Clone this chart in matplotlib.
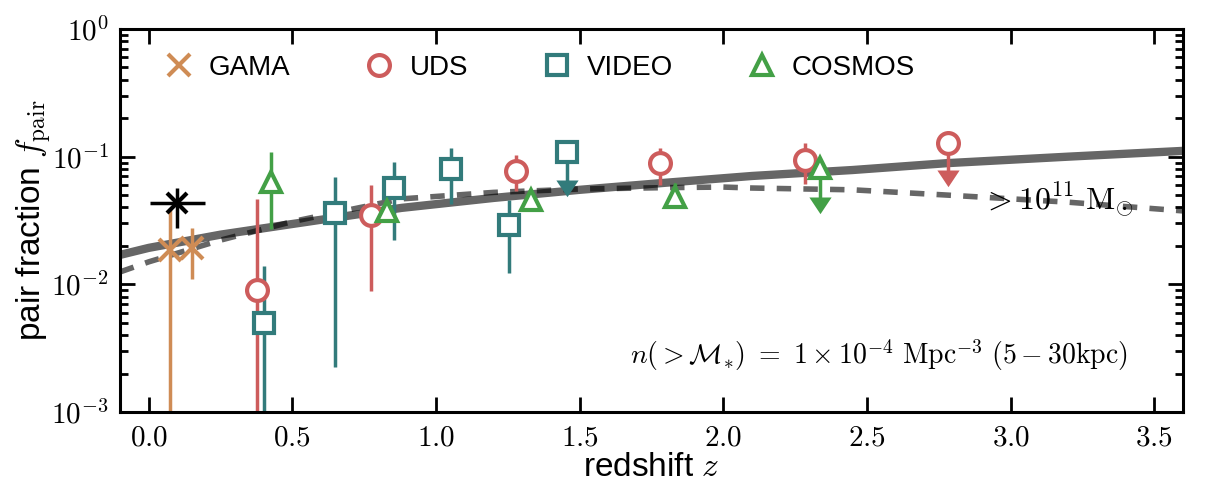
import numpy as np
import matplotlib
matplotlib.use("Agg")
import matplotlib.pyplot as plt
import matplotlib.ticker as mticker
from matplotlib.path import Path

plt.rcParams['font.family'] = ['Liberation Sans', 'DejaVu Sans']
plt.rcParams['mathtext.fontset'] = 'cm'

# ---- data ----
LOW = 1e-5   # error bars that run off the bottom of the plot

gama_z = [0.073, 0.150]
gama_f = [0.0186, 0.0193]
gama_lo = [LOW, 0.0110]
gama_hi = [0.0396, 0.0276]

uds_z = [0.378, 0.773, 1.280, 1.780, 2.283]
uds_f = [0.0090, 0.0349, 0.0772, 0.0890, 0.0940]
uds_lo = [LOW, 0.0089, 0.0538, 0.0600, 0.0610]
uds_hi = [0.0467, 0.0600, 0.1030, 0.1170, 0.1280]
uds_lim_z = [2.783]
uds_lim_f = [0.128]
uds_lim_end = [0.0786]

video_z = [0.400, 0.650, 0.853, 1.052, 1.253]
video_f = [0.0050, 0.0362, 0.0568, 0.0800, 0.0292]
video_lo = [LOW, 0.00225, 0.0222, 0.0426, 0.0123]
video_hi = [0.0139, 0.0693, 0.0910, 0.1170, 0.0458]
video_lim_z = [1.455]
video_lim_f = [0.109]
video_lim_end = [0.0656]

cosmos_z = [0.425, 0.829, 1.329, 1.832]
cosmos_f = [0.0633, 0.0376, 0.0458, 0.0483]
cosmos_lo = [0.0271, 0.0330, 0.0405, 0.0400]
cosmos_hi = [0.1090, 0.0400, 0.0490, 0.0620]
cosmos_lim_z = [2.335]
cosmos_lim_f = [0.0815]
cosmos_lim_end = [0.0483]

local_z = [0.100]
local_f = [0.0434]
local_zerr = [0.095]
local_lo = [0.0276]
local_hi = [0.0569]

model_z = [-0.1, 0.0, 0.25, 0.5, 0.88, 1.2, 1.5, 1.8, 2.1, 2.45, 2.78, 3.2, 3.6]
model_f = [0.0170, 0.0193, 0.0245, 0.0297, 0.0397, 0.0475, 0.0550, 0.0625, 0.0706,
           0.0786, 0.0890, 0.1000, 0.1110]
massive_z = [-0.1, 0.0, 0.25, 0.5, 0.88, 1.2, 1.5, 1.8, 2.0, 2.1, 2.45, 2.78, 3.2, 3.6]
massive_f = [0.0125, 0.0150, 0.0222, 0.0310, 0.0467, 0.0525, 0.0558, 0.0572, 0.0578,
             0.0568, 0.0550, 0.0500, 0.0440, 0.0376]

C_GAMA = '#CF8C55'
C_UDS = '#CD5C5C'
C_VIDEO = '#327B7B'
C_COSMOS = '#43A046'

# arrow head: base at the data point, tip below
arrow = Path([(-1.0, 0.0), (0.0, -1.5), (1.0, 0.0), (-1.0, 0.0)],
             [Path.MOVETO, Path.LINETO, Path.LINETO, Path.CLOSEPOLY])

fig = plt.figure(figsize=(12.06, 4.88), dpi=100)
ax = fig.add_axes([120 / 1206, 76 / 488, 1063 / 1206, 383 / 488])
ax.set_yscale('log')

ax.plot(model_z, model_f, color='black', alpha=0.6, lw=6, solid_capstyle='butt', zorder=1)
ax.plot(massive_z, massive_f, color='black', alpha=0.6, lw=4, dashes=(2.6, 2.2), zorder=1)


def points(z, f, lo, hi, color, marker, label, ms=15, mew=3):
    f = np.array(f)
    yerr = [f - np.array(lo), np.array(hi) - f]
    ax.errorbar(z, f, yerr=yerr, fmt='none', ecolor=color, elinewidth=2.5,
                capsize=0, zorder=2)
    ax.plot(z, f, ls='none', marker=marker, ms=ms, mew=mew, mec=color,
            mfc='white' if marker != 'x' else color, zorder=3, label=label)


def limits(z, f, end, color, marker):
    for zi, fi, ei in zip(z, f, end):
        ax.plot([zi, zi], [fi, ei], color=color, lw=2.5, zorder=2)
    ax.plot(z, end, ls='none', marker=arrow, ms=24, mew=0, mfc=color, zorder=2)
    ax.plot(z, f, ls='none', marker=marker, ms=15, mew=3, mec=color, mfc='white', zorder=3)


points(gama_z, gama_f, gama_lo, gama_hi, C_GAMA, 'x', 'GAMA', ms=16)
points(uds_z, uds_f, uds_lo, uds_hi, C_UDS, 'o', 'UDS')
points(video_z, video_f, video_lo, video_hi, C_VIDEO, 's', 'VIDEO')
points(cosmos_z, cosmos_f, cosmos_lo, cosmos_hi, C_COSMOS, '^', 'COSMOS')
limits(uds_lim_z, uds_lim_f, uds_lim_end, C_UDS, 'o')
limits(video_lim_z, video_lim_f, video_lim_end, C_VIDEO, 's')
limits(cosmos_lim_z, cosmos_lim_f, cosmos_lim_end, C_COSMOS, '^')

lf = np.array(local_f)
ax.errorbar(local_z, lf, xerr=local_zerr, yerr=[lf - np.array(local_lo), np.array(local_hi) - lf],
            fmt='x', color='black', ms=14, mew=3, elinewidth=2.5, capsize=0, zorder=4)

ax.set_xlim(-0.1, 3.6)
ax.set_ylim(1e-3, 1e0)

ax.xaxis.set_major_locator(mticker.MultipleLocator(0.5))
ax.xaxis.set_major_formatter(mticker.FuncFormatter(lambda v, _: r'$%.1f$' % v))
ax.yaxis.set_major_locator(mticker.LogLocator(base=10, numticks=10))
ax.yaxis.set_minor_locator(mticker.LogLocator(base=10, subs=np.arange(2, 10), numticks=10))
ax.yaxis.set_major_formatter(mticker.FuncFormatter(lambda v, _: r'$10^{%d}$' % round(np.log10(v))))
ax.yaxis.set_minor_formatter(mticker.NullFormatter())
ax.tick_params(which='both', direction='in', top=True, right=True, width=2, labelsize=21)
ax.tick_params(which='major', length=11, pad=8)
ax.tick_params(which='minor', length=6)
for s in ax.spines.values():
    s.set_linewidth(2.2)

ax.set_xlabel(r'redshift $z$', fontsize=24, labelpad=1)
ax.set_ylabel(r'pair fraction $f_{\rm pair}$', fontsize=24, labelpad=-2)

ax.text(2.90, 0.046, r'$>10^{11}\ {\rm M}_{\odot}$', fontsize=23, va='center', ha='left', zorder=5)
ax.text(0.948, 0.149, r'$n(>\mathcal{M}_{*})\ =\ 1\times10^{-4}\ {\rm Mpc}^{-3}\ (5-30{\rm kpc})$',
        transform=ax.transAxes, fontsize=20, ha='right', va='center')

ax.legend(loc='center left', bbox_to_anchor=(0.0424, 0.898), ncol=4, frameon=False,
          fontsize=20, handlelength=1.0, handletextpad=0.58, columnspacing=2.7,
          borderpad=0, borderaxespad=0, numpoints=1)

fig.savefig('out.png', dpi=100)
